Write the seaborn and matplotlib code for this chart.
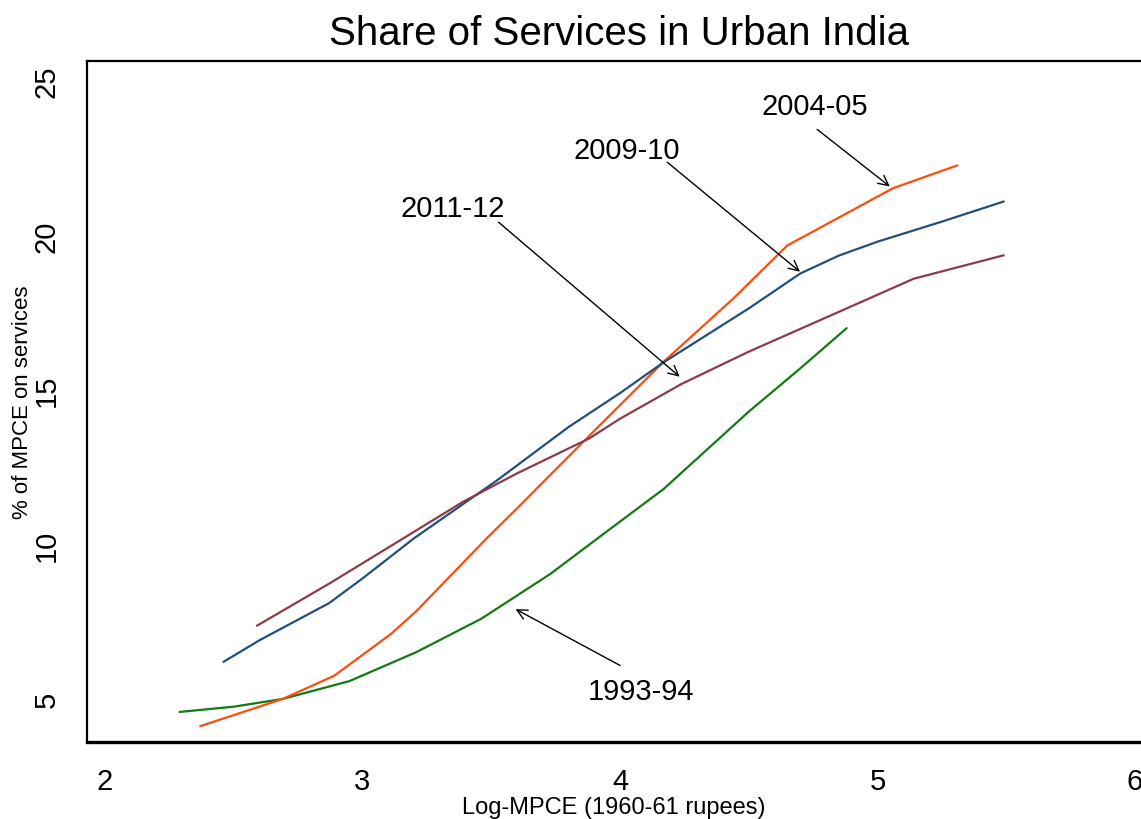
import pandas as pd
import seaborn as sns
import matplotlib
matplotlib.use("Agg")
import matplotlib.pyplot as plt

# curves (log-MPCE, % of MPCE on services)
x_1993 = [2.29, 2.50, 2.69, 2.95, 3.21, 3.46, 3.73, 3.91, 4.17, 4.50, 4.70, 4.88]
y_1993 = [4.58, 4.75, 5.00, 5.58, 6.52, 7.59, 9.05, 10.18, 11.80, 14.30, 15.70, 17.00]

x_2004 = [2.37, 2.69, 2.89, 3.11, 3.21, 3.48, 3.61, 3.87, 4.17, 4.44, 4.65, 4.75, 5.06, 5.31]
y_2004 = [4.12, 5.00, 5.75, 7.10, 7.85, 10.18, 11.25, 13.43, 15.92, 17.96, 19.68, 20.13, 21.53, 22.27]

x_2009 = [2.46, 2.60, 2.87, 3.00, 3.20, 3.52, 3.80, 4.00, 4.17, 4.50, 4.70, 4.85, 5.00, 5.25, 5.49]
y_2009 = [6.20, 6.90, 8.10, 8.90, 10.20, 12.06, 13.80, 14.90, 15.90, 17.64, 18.77, 19.35, 19.80, 20.45, 21.10]

x_2011 = [2.59, 2.87, 3.10, 3.39, 3.60, 3.88, 4.00, 4.24, 4.50, 4.88, 5.14, 5.49]
y_2011 = [7.37, 8.73, 9.90, 11.38, 12.30, 13.43, 14.07, 15.20, 16.24, 17.64, 18.60, 19.36]

years = ["1993-94", "2004-05", "2009-10", "2011-12"]
colors = {"1993-94": "#137a13", "2004-05": "#ff4c0c",
          "2009-10": "#234f7a", "2011-12": "#8c3b4a"}

# label text position, arrow start, arrow tip
labels = {
    "2004-05": ((4.757, 24.2), (4.757, 23.49), (5.056, 21.53)),
    "2009-10": ((4.027, 22.76), (4.175, 22.43), (4.707, 18.77)),
    "2011-12": ((3.35, 20.88), (3.52, 20.49), (4.24, 15.37)),
    "1993-94": ((4.08, 5.26), (4.01, 6.04), (3.585, 7.95)),
}

frames = []
for yr, xs, ys in zip(years, [x_1993, x_2004, x_2009, x_2011],
                      [y_1993, y_2004, y_2009, y_2011]):
    frames.append(pd.DataFrame({"lmpce": xs, "share": ys, "year": yr}))
df = pd.concat(frames, ignore_index=True)

sns.set_style("white")
plt.rcParams["font.family"] = ["Liberation Sans", "DejaVu Sans"]
plt.rcParams["text.color"] = "black"
plt.rcParams["axes.labelcolor"] = "black"

fig = plt.figure(figsize=(11.41, 8.2), dpi=100)
ax = fig.add_axes([0.0762, 0.0939, 0.9238, 0.8305])

sns.lineplot(data=df, x="lmpce", y="share", hue="year", palette=colors,
             linewidth=1.6, legend=False, sort=False, estimator=None, ax=ax)

for yr, (txt, start, tip) in labels.items():
    ax.text(txt[0], txt[1], yr, fontsize=21, ha="center", va="center")
    ax.annotate("", xy=tip, xytext=start,
                arrowprops=dict(arrowstyle="->", color="black", lw=1.0,
                                mutation_scale=18))

ax.set_xlim(1.930, 6.023)
ax.set_ylim(3.607, 25.648)
ax.set_xticks([2, 3, 4, 5, 6])
ax.set_yticks([5, 10, 15, 20, 25])
ax.tick_params(axis="both", direction="out", length=9, width=1.4,
               labelsize=21, colors="black")
ax.tick_params(axis="x", pad=9)
ax.tick_params(axis="y", pad=10)
plt.setp(ax.get_yticklabels(), rotation=90, va="center")

ax.spines["right"].set_visible(False)
ax.spines["bottom"].set_linewidth(2.4)
ax.spines["left"].set_linewidth(1.6)
ax.spines["top"].set_linewidth(1.6)
for s in ["bottom", "left", "top"]:
    ax.spines[s].set_color("black")

ax.set_xlabel("Log-MPCE (1960-61 rupees)", fontsize=17, labelpad=1)
ax.set_ylabel("% of MPCE on services", fontsize=16, labelpad=0)
fig.text(0.5425, 0.959, "Share of Services in Urban India", fontsize=29,
         ha="center", va="center")

fig.savefig("out.png", dpi=100)
